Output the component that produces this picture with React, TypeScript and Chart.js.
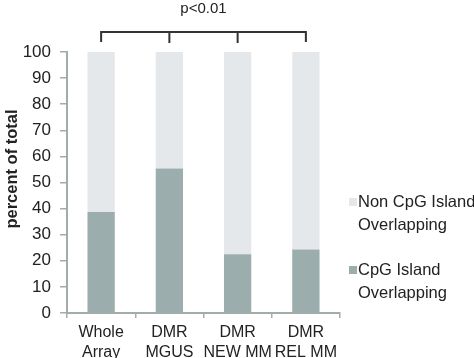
import React, { useEffect, useRef } from "react";
import { Chart, registerables } from "chart.js";

Chart.register(...registerables);

const categories: string[][] = [["Whole", "Array"], ["DMR", "MGUS"], ["DMR", "NEW MM"], ["DMR", "REL MM"]];
const cpgIsland: number[] = [38.7, 55.4, 22.5, 24.3];
const nonCpgIsland: number[] = [61.3, 44.6, 77.5, 75.7];
const yTicks: number[] = [0, 10, 20, 30, 40, 50, 60, 70, 80, 90, 100];
const legendItems = [
  { lines: ["Non CpG Island", "Overlapping"], color: "#e5e8ea" },
  { lines: ["CpG Island", "Overlapping"], color: "#9cadad" },
];
const pLabel = "p<0.01";
const yTitle = "percent of total";

const FONT = "'Liberation Sans', Arial, sans-serif";

const overlay = {
  id: "overlay",
  afterDraw(chart: any) {
    const ctx = chart.ctx;
    const x = chart.scales.x;
    ctx.save();
    const xs = categories.map((_, i) => x.getPixelForValue(i));
    ctx.strokeStyle = "#333";
    ctx.lineWidth = 2;
    ctx.beginPath();
    ctx.moveTo(xs[0], 42);
    ctx.lineTo(xs[0], 32);
    ctx.lineTo(xs[xs.length - 1], 32);
    ctx.lineTo(xs[xs.length - 1], 42);
    for (let i = 1; i < xs.length - 1; i++) {
      ctx.moveTo(xs[i], 32);
      ctx.lineTo(xs[i], 43);
    }
    ctx.stroke();
    ctx.fillStyle = "#222";
    ctx.font = `15px ${FONT}`;
    ctx.textAlign = "center";
    ctx.textBaseline = "middle";
    ctx.fillText(pLabel, (xs[0] + xs[xs.length - 1]) / 2, 9);
    ctx.save();
    ctx.translate(12, 169);
    ctx.rotate(-Math.PI / 2);
    ctx.font = `bold 16.5px ${FONT}`;
    ctx.fillText(yTitle, 0, 0);
    ctx.restore();
    const tops = [202, 270];
    legendItems.forEach((item, k) => {
      const cy = tops[k];
      ctx.fillStyle = item.color;
      ctx.fillRect(349, cy - 4, 8, 8);
      ctx.fillStyle = "#222";
      ctx.font = `16.5px ${FONT}`;
      ctx.textAlign = "left";
      item.lines.forEach((ln, j) => ctx.fillText(ln, 358, cy + j * 23));
    });
    ctx.restore();
  },
};

export default function App() {
  const ref = useRef<HTMLCanvasElement>(null);
  useEffect(() => {
    const chart = new Chart(ref.current!, {
      type: "bar",
      data: {
        labels: categories,
        datasets: [
          { label: "CpG Island Overlapping", data: cpgIsland, backgroundColor: "#9cadad", barPercentage: 0.4, categoryPercentage: 1 },
          { label: "Non CpG Island Overlapping", data: nonCpgIsland, backgroundColor: "#e5e8ea", barPercentage: 0.4, categoryPercentage: 1 },
        ],
      },
      options: {
        animation: false,
        responsive: false,
        layout: { padding: { top: 52, right: 134, left: 0, bottom: 0 } },
        plugins: { legend: { display: false }, tooltip: { enabled: false } },
        scales: {
          x: {
            stacked: true,
            offset: true,
            grid: { offset: true, drawOnChartArea: false, drawTicks: true, tickLength: 5, color: "#a3abab", lineWidth: 1.5 },
            border: { color: "#a3abab", width: 2 },
            ticks: { color: "#222", font: { family: FONT, size: 16, lineHeight: 1.25 }, padding: 5, maxRotation: 0, autoSkip: false },
            afterFit: (s: any) => { s.height = 45; },
          },
          y: {
            stacked: true,
            min: 0,
            max: 100,
            afterBuildTicks: (s: any) => { s.ticks = yTicks.map((v) => ({ value: v })); },
            grid: { drawOnChartArea: false, drawTicks: true, tickLength: 7, color: "#a3abab", lineWidth: 1.5 },
            border: { color: "#a3abab", width: 2 },
            ticks: { color: "#222", font: { family: FONT, size: 17 }, padding: 9 },
            afterFit: (s: any) => { s.width = 67; },
          },
        },
      },
      plugins: [overlay],
    });
    return () => chart.destroy();
  }, []);
  return (
    <div style={{ position: "fixed", left: 0, top: 0, width: 474, height: 358, background: "#fff" }}>
      <canvas ref={ref} width={474} height={358} style={{ width: 474, height: 358 }} />
    </div>
  );
}
